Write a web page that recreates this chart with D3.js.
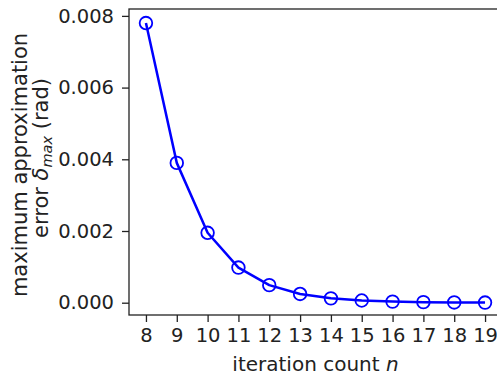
<!DOCTYPE html>
<html><head><meta charset="utf-8">
<script src="https://cdn.jsdelivr.net/npm/d3@7"></script>
<style>body{margin:0;background:#fff}svg{display:block}</style>
</head><body>
<script>
const iterations = [8, 9, 10, 11, 12, 13, 14, 15, 16, 17, 18, 19];
const maxError = [0.0078, 0.0039, 0.00195, 0.00098, 0.00049, 0.000244, 0.000122, 0.000061, 0.0000305, 0.0000153, 0.0000076, 0.0000038];
const yTicks = [0, 0.002, 0.004, 0.006, 0.008];

const W = 497, H = 379;
const m = {left: 129, top: 9, right: 502, bottom: 315};
const svg = d3.select("body").append("svg").attr("width", W).attr("height", H)
  .style("font-family", "DejaVu Sans");

const x = d3.scaleLinear().domain([7.45, 19.55]).range([m.left, m.right]);
const y = d3.scaleLinear().domain([-0.000343, 0.008192]).range([m.bottom, m.top]);

const fs = 19.5;
const xAxis = svg.append("g").attr("transform", `translate(0,${m.bottom})`)
  .call(d3.axisBottom(x).tickValues(iterations).tickFormat(d3.format("d")).tickSize(7).tickPadding(6).tickSizeOuter(0));
const yAxis = svg.append("g").attr("transform", `translate(${m.left},0)`)
  .call(d3.axisLeft(y).tickValues(yTicks).tickFormat(d3.format(".3f")).tickSize(7).tickPadding(8).tickSizeOuter(0));
[xAxis, yAxis].forEach(g => {
  g.selectAll("text").style("font-size", fs + "px").attr("fill", "#222");
  g.selectAll("line").attr("stroke", "#222").attr("stroke-width", 1.3);
  g.select(".domain").remove();
  g.attr("font-family", null);
});

// frame
svg.append("rect").attr("x", m.left).attr("y", m.top)
  .attr("width", m.right - m.left).attr("height", m.bottom - m.top)
  .attr("fill", "none").attr("stroke", "#222").attr("stroke-width", 1.3);

const data = iterations.map((n, i) => ({n, v: maxError[i]}));
svg.append("path").datum(data)
  .attr("d", d3.line().x(d => x(d.n)).y(d => y(d.v)))
  .attr("fill", "none").attr("stroke", "#0000ff").attr("stroke-width", 2.5)
  .attr("stroke-linejoin", "round");
svg.append("g").selectAll("circle").data(data).join("circle")
  .attr("cx", d => x(d.n)).attr("cy", d => y(d.v)).attr("r", 6.3)
  .attr("fill", "none").attr("stroke", "#0000ff").attr("stroke-width", 1.8);

// x label
const xl = svg.append("text").attr("x", (m.left + m.right) / 2).attr("y", 371)
  .attr("text-anchor", "middle").style("font-size", "20px").attr("fill", "#222");
xl.append("tspan").text("iteration count ");
xl.append("tspan").style("font-style", "italic").text("n");

// y label
const yl = svg.append("text").attr("transform", "translate(0,165) rotate(-90)")
  .attr("text-anchor", "middle").style("font-size", "21px").attr("fill", "#222");
yl.append("tspan").attr("x", 0).attr("y", 27).text("maximum approximation");
const l2 = svg.append("text").attr("transform", "translate(0,158) rotate(-90)")
  .attr("text-anchor", "middle").style("font-size", "21px").attr("fill", "#222");
l2.append("tspan").attr("x", 0).attr("y", 48).text("error ");
l2.append("tspan").style("font-style", "italic").text("δ");
l2.append("tspan").style("font-style", "italic").style("font-size", "14.5px").attr("dy", 4).text("max");
l2.append("tspan").attr("dy", -4).text(" (rad)");
</script>
</body></html>
